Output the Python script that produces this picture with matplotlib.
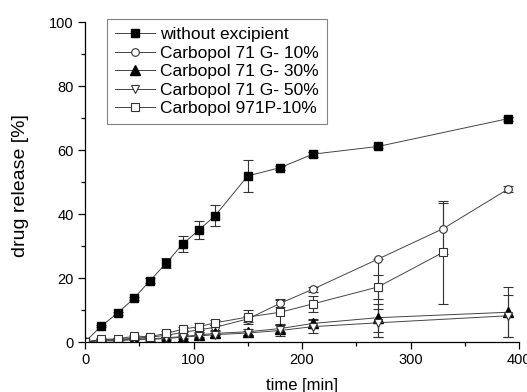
import matplotlib
matplotlib.use("Agg")
import matplotlib.pyplot as plt
import numpy as np

plt.rcParams['font.family'] = ['Liberation Sans', 'DejaVu Sans']

# time points [min]
t_main = [0, 15, 30, 45, 60, 75, 90, 105, 120, 150, 180, 210, 270, 390]
t_g10 = [0, 15, 30, 45, 60, 75, 90, 105, 120, 150, 180, 210, 270, 330, 390]
t_g30 = [0, 15, 30, 45, 60, 75, 90, 105, 120, 150, 180, 210, 270, 390]
t_g50 = [0, 15, 30, 45, 60, 75, 90, 105, 120, 150, 180, 210, 270, 390]
t_971 = [0, 15, 30, 45, 60, 75, 90, 105, 120, 150, 180, 210, 270, 330]

# drug release [%]
y_main = [0, 5.0, 9.0, 13.6, 19.2, 24.7, 30.6, 35.0, 39.5, 51.9, 54.5, 58.7, 61.1, 69.8]
e_main = [0, 0.4, 0.5, 0.6, 0.7, 1.5, 2.4, 2.9, 3.2, 5.0, 0.6, 0.8, 0.6, 0.6]

y_g10 = [0, 0.6, 0.8, 1.2, 1.5, 2.1, 3.0, 3.8, 4.6, 7.2, 12.1, 16.5, 25.9, 35.4, 47.8]
e_g10_lo = [0, 0.3, 0.3, 0.4, 0.4, 0.5, 0.6, 0.7, 0.8, 0.8, 1.2, 0.8, 24.2, 8.0, 1.0]
e_g10_hi = [0, 0.3, 0.3, 0.4, 0.4, 0.5, 0.6, 0.7, 0.8, 0.8, 1.2, 0.8, 0.0, 8.0, 1.0]

y_g30 = [0, 0.6, 0.5, 1.0, 1.0, 1.3, 1.7, 2.2, 2.7, 3.2, 4.2, 5.8, 7.6, 9.3]
e_g30 = [0, 0.3, 0.3, 0.3, 0.4, 0.4, 0.5, 0.6, 0.6, 1.0, 1.2, 1.5, 4.4, 7.8]

y_g50 = [0, 0.4, 0.3, 0.8, 0.8, 1.1, 1.5, 1.9, 2.3, 2.8, 3.6, 4.8, 6.0, 8.2]
e_g50 = [0, 0.3, 0.3, 0.3, 0.4, 0.4, 0.5, 0.6, 0.6, 0.7, 1.7, 2.0, 4.4, 6.5]

y_971 = [0, 0.8, 1.0, 1.8, 1.7, 2.7, 4.0, 4.8, 6.0, 7.8, 9.3, 11.9, 17.2, 28.0]
e_971 = [0, 0.3, 0.3, 0.4, 0.5, 0.6, 0.8, 1.0, 0.8, 2.2, 3.8, 2.5, 3.8, 16.0]

labels = ['without excipient', 'Carbopol 71 G- 10%', 'Carbopol 71 G- 30%',
          'Carbopol 71 G- 50%', 'Carbopol 971P-10%']

fig = plt.figure(figsize=(5.27, 3.92), dpi=100)
ax = fig.add_axes([85/527, 1-342/392, 434/527, 320/392])

lc = '#444444'
common = dict(elinewidth=0.8, capsize=3.5, capthick=0.8, ecolor='#333333', lw=0.7, color=lc)

h1 = ax.errorbar(t_main, y_main, yerr=e_main, marker='s', ms=5.5, mfc='black', mec='black', **common)
h2 = ax.errorbar(t_g10, y_g10, yerr=[e_g10_lo, e_g10_hi], marker='o', ms=5.5, mfc='white', mec='#333333', mew=0.8, **common)
h3 = ax.errorbar(t_g30, y_g30, yerr=e_g30, marker='^', ms=6.5, mfc='black', mec='black', **common)
h4 = ax.errorbar(t_g50, y_g50, yerr=e_g50, marker='v', ms=6, mfc='white', mec='#333333', mew=0.8, **common)
h5 = ax.errorbar(t_971, y_971, yerr=e_971, marker='s', ms=5.5, mfc='white', mec='#333333', mew=0.8, **common)

ax.set_xlim(0, 400)
ax.set_ylim(0, 100)
ax.set_xticks([0, 100, 200, 300, 400])
ax.set_xticks([50, 150, 250, 350], minor=True)
ax.set_yticks([0, 20, 40, 60, 80, 100])
ax.set_yticks([10, 30, 50, 70, 90], minor=True)
ax.spines['top'].set_visible(False)
ax.spines['right'].set_visible(False)
for s in ['left', 'bottom']:
    ax.spines[s].set_linewidth(0.9)
ax.tick_params(which='major', direction='out', length=5, width=0.9, labelsize=10.5, pad=3)
ax.tick_params(which='minor', direction='out', length=3, width=0.9)

ax.set_xlabel('time [min]', fontsize=12, labelpad=8)
ax.set_ylabel('drug release [%]', fontsize=14)
ax.yaxis.set_label_coords(-0.128, 0.49)

handles = [h1[0], h2[0], h3[0], h4[0], h5[0]]
leg = fig.legend(handles, labels, loc='upper left',
                 bbox_to_anchor=(107/527, 1-19/392), borderaxespad=0,
                 fontsize=12.5, frameon=True, fancybox=False, edgecolor='#666666',
                 handlelength=2.3, handletextpad=0.3, labelspacing=0.2,
                 borderpad=0.45, numpoints=1)
leg.get_frame().set_linewidth(0.8)

fig.savefig('out.png', dpi=100)
